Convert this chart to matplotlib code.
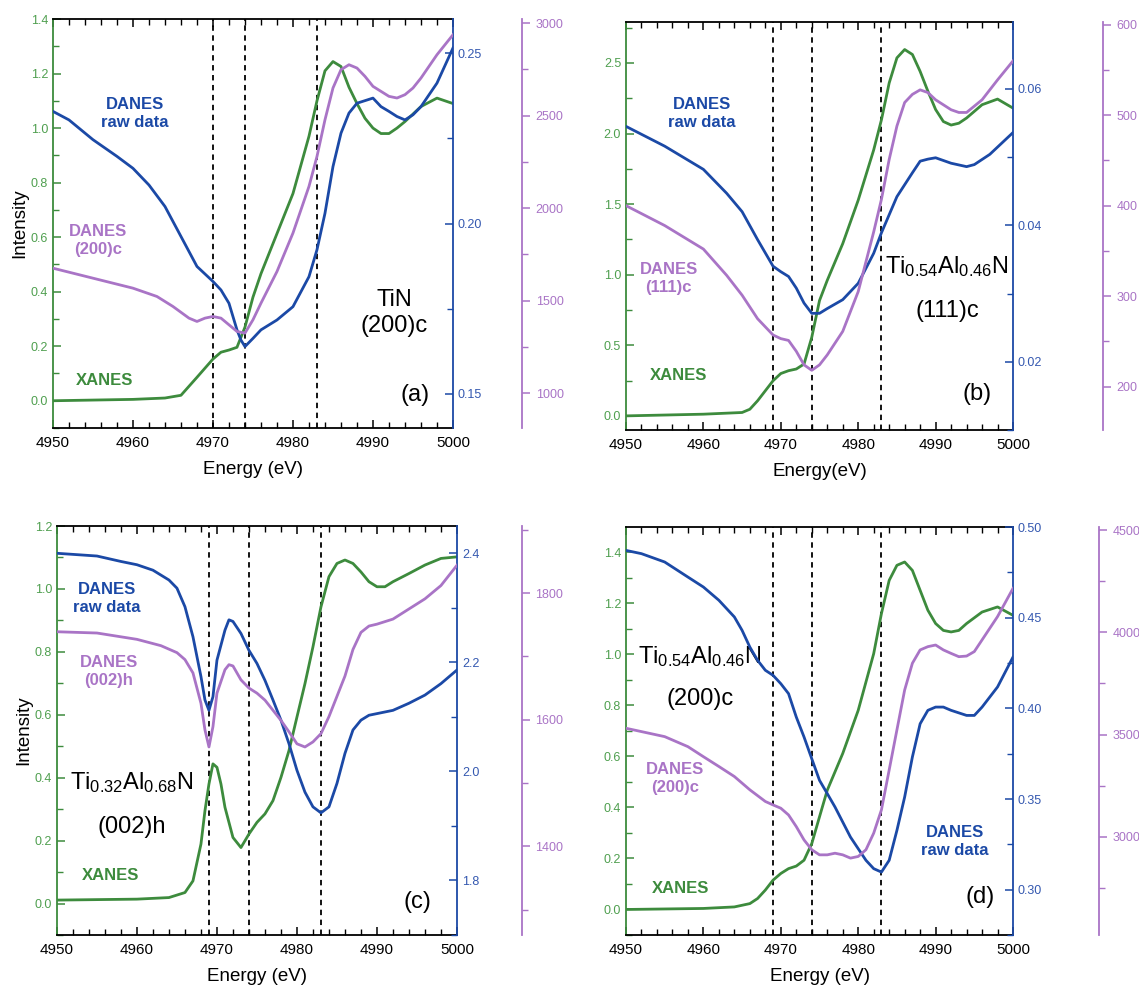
import numpy as np
import matplotlib
matplotlib.use("Agg")
import matplotlib.pyplot as plt
from matplotlib.ticker import MultipleLocator, FormatStrFormatter

plt.rcParams['font.family'] = ['Liberation Sans', 'DejaVu Sans']
plt.rcParams['mathtext.fontset'] = 'custom'
plt.rcParams['mathtext.rm'] = 'Liberation Sans'
plt.rcParams['mathtext.it'] = 'Liberation Sans:italic'

GREEN = '#3d8b3d'
BLUE = '#1b49a6'
PURPLE = '#a974c6'
GREEN_T = '#4f9f4f'
BLUE_T = '#3458b0'

# ---------------- panel (a) TiN (200)c ----------------
ea_x = [4950, 4960, 4964, 4965, 4966, 4968, 4970, 4971, 4972, 4973, 4973.5, 4974, 4975, 4976,
        4978, 4980, 4982, 4983, 4984, 4985, 4986, 4987, 4988, 4989, 4990, 4991, 4992, 4993,
        4994, 4996, 4998, 5000]
a_xanes = [0.0, 0.005, 0.01, 0.015, 0.02, 0.086, 0.153, 0.178, 0.186, 0.196, 0.233, 0.27, 0.38, 0.466,
           0.613, 0.76, 0.97, 1.10, 1.21, 1.244, 1.226, 1.15, 1.09, 1.036, 1.0, 0.98, 0.98, 1.0,
           1.024, 1.079, 1.11, 1.09]
ea_b = [4950, 4952, 4955, 4958, 4960, 4962, 4964, 4966, 4968, 4970, 4971, 4972, 4973, 4973.5,
        4974, 4975, 4976, 4978, 4980, 4982, 4983, 4984, 4985, 4986, 4987, 4988, 4990, 4991,
        4992, 4993, 4994, 4995, 4996, 4998, 5000]
a_raw = [0.2329, 0.2304, 0.2246, 0.2197, 0.2162, 0.2113, 0.205, 0.1962, 0.1874, 0.183, 0.1805, 0.1766,
         0.1688, 0.1658, 0.1639, 0.1663, 0.1688, 0.1717, 0.1756, 0.1844, 0.1923, 0.203, 0.2167,
         0.2265, 0.2324, 0.2353, 0.2368, 0.2343, 0.2329, 0.2314, 0.2304, 0.2319, 0.2343, 0.2412, 0.2515]
ea_p = [4950, 4955, 4960, 4963, 4965, 4967, 4968, 4969, 4970, 4971, 4972, 4973, 4974, 4975, 4976,
        4978, 4980, 4982, 4983, 4984, 4985, 4986, 4987, 4988, 4989, 4990, 4992, 4993, 4994, 4995,
        4996, 4998, 5000]
a_danes = [1675, 1621, 1567, 1522, 1468, 1405, 1387, 1405, 1414, 1405, 1369, 1333, 1324, 1396, 1486,
           1657, 1865, 2117, 2279, 2477, 2649, 2748, 2775, 2757, 2712, 2658, 2604, 2595, 2613, 2649,
           2703, 2829, 2937]

# ---------------- panel (b) Ti0.54Al0.46N (111)c ----------------
eb_x = [4950, 4960, 4965, 4966, 4967, 4968, 4969, 4970, 4971, 4972, 4973, 4974, 4975, 4976, 4978,
        4980, 4982, 4983, 4984, 4985, 4986, 4987, 4988, 4989, 4990, 4991, 4992, 4993, 4994, 4996,
        4998, 5000]
b_xanes = [0.0, 0.012, 0.024, 0.047, 0.107, 0.178, 0.249, 0.30, 0.32, 0.332, 0.367, 0.557, 0.817,
           0.96, 1.22, 1.528, 1.884, 2.097, 2.358, 2.536, 2.595, 2.56, 2.44, 2.30, 2.17, 2.085, 2.06,
           2.073, 2.11, 2.204, 2.244, 2.18]
eb_b = [4950, 4955, 4960, 4963, 4965, 4967, 4969, 4970, 4971, 4972, 4973, 4974, 4975, 4976, 4978,
        4980, 4982, 4983, 4985, 4987, 4988, 4989, 4990, 4992, 4994, 4995, 4997, 5000]
b_raw = [0.0545, 0.0516, 0.0482, 0.0447, 0.0420, 0.0379, 0.0340, 0.0332, 0.0325, 0.0308, 0.0286,
         0.0271, 0.0271, 0.0278, 0.0291, 0.0315, 0.0359, 0.0389, 0.0442, 0.0477, 0.0494, 0.0497,
         0.0499, 0.0491, 0.0486, 0.0489, 0.0504, 0.0536]
eb_p = [4950, 4955, 4960, 4963, 4965, 4967, 4969, 4970, 4971, 4972, 4973, 4974, 4975, 4976, 4978,
        4980, 4982, 4983, 4984, 4985, 4986, 4987, 4988, 4989, 4990, 4992, 4993, 4994, 4996, 4998, 5000]
b_danes = [400, 378, 352, 323, 301, 275, 257, 253, 251, 239, 224, 218, 224, 235, 261, 305, 371, 407,
           451, 488, 514, 523, 528, 525, 517, 506, 503, 503, 517, 539, 560]

# ---------------- panel (c) Ti0.32Al0.68N (002)h ----------------
ec_x = [4950, 4960, 4964, 4966, 4967, 4968, 4968.5, 4969, 4969.5, 4970, 4970.5, 4971, 4972, 4973,
        4974, 4975, 4976, 4977, 4978, 4979, 4980, 4981, 4982, 4983, 4984, 4985, 4986, 4987, 4988,
        4989, 4990, 4991, 4992, 4994, 4996, 4998, 5000]
c_xanes = [0.011, 0.014, 0.019, 0.035, 0.072, 0.189, 0.295, 0.38, 0.444, 0.433, 0.38, 0.306, 0.21,
           0.178, 0.221, 0.258, 0.285, 0.327, 0.401, 0.486, 0.593, 0.699, 0.816, 0.943, 1.039, 1.081,
           1.092, 1.081, 1.054, 1.023, 1.007, 1.007, 1.023, 1.049, 1.076, 1.097, 1.102]
ec_b = [4950, 4955, 4958, 4960, 4962, 4964, 4965, 4966, 4967, 4968, 4968.5, 4969, 4969.5, 4970,
        4971, 4971.5, 4972, 4973, 4974, 4975, 4976, 4977, 4978, 4979, 4980, 4981, 4982, 4983, 4984,
        4985, 4986, 4987, 4988, 4989, 4990, 4992, 4994, 4996, 4998, 5000]
c_raw = [2.400, 2.395, 2.385, 2.379, 2.369, 2.351, 2.336, 2.302, 2.247, 2.174, 2.131, 2.112, 2.137,
         2.204, 2.259, 2.278, 2.275, 2.253, 2.222, 2.198, 2.167, 2.131, 2.094, 2.051, 2.002, 1.962,
         1.935, 1.924, 1.935, 1.978, 2.033, 2.076, 2.094, 2.103, 2.106, 2.112, 2.125, 2.140, 2.161, 2.186]
ec_p = [4950, 4955, 4960, 4963, 4965, 4966, 4967, 4968, 4968.5, 4969, 4969.5, 4970, 4971, 4971.5,
        4972, 4973, 4974, 4975, 4976, 4977, 4978, 4979, 4980, 4981, 4982, 4983, 4984, 4985, 4986,
        4987, 4988, 4989, 4990, 4992, 4994, 4996, 4998, 5000]
c_danes = [1739, 1737, 1727, 1717, 1706, 1695, 1674, 1626, 1584, 1557, 1589, 1642, 1679, 1687, 1685,
           1663, 1650, 1642, 1631, 1615, 1599, 1581, 1562, 1557, 1565, 1578, 1605, 1637, 1669, 1711,
           1738, 1748, 1751, 1759, 1775, 1791, 1812, 1844]

# ---------------- panel (d) Ti0.54Al0.46N (200)c ----------------
ed_x = [4950, 4960, 4964, 4966, 4967, 4968, 4969, 4970, 4971, 4972, 4973, 4974, 4975, 4976, 4978,
        4980, 4982, 4983, 4984, 4985, 4986, 4987, 4988, 4989, 4990, 4991, 4992, 4993, 4994, 4996,
        4998, 5000]
d_xanes = [0.0, 0.004, 0.01, 0.023, 0.043, 0.076, 0.115, 0.141, 0.16, 0.17, 0.193, 0.258, 0.363,
           0.467, 0.611, 0.78, 1.002, 1.159, 1.289, 1.348, 1.361, 1.328, 1.25, 1.172, 1.12, 1.093,
           1.087, 1.093, 1.12, 1.165, 1.185, 1.152]
ed_b = [4950, 4952, 4955, 4958, 4960, 4962, 4964, 4965, 4966, 4967, 4968, 4969, 4970, 4971, 4972,
        4973, 4974, 4975, 4976, 4977, 4978, 4979, 4980, 4981, 4982, 4983, 4984, 4985, 4986, 4987,
        4988, 4989, 4990, 4991, 4992, 4994, 4995, 4996, 4998, 5000]
d_raw = [0.4871, 0.4853, 0.4807, 0.4724, 0.4669, 0.4596, 0.4504, 0.443, 0.4338, 0.4265, 0.421,
         0.4182, 0.4136, 0.4081, 0.3952, 0.3842, 0.3722, 0.3603, 0.353, 0.3456, 0.3373, 0.329,
         0.3226, 0.3162, 0.3116, 0.3097, 0.3162, 0.3327, 0.3511, 0.3732, 0.3915, 0.3989, 0.4007,
         0.4007, 0.3989, 0.3961, 0.3961, 0.4007, 0.4118, 0.4283]
ed_p = [4950, 4955, 4958, 4960, 4962, 4964, 4966, 4968, 4969, 4970, 4971, 4972, 4973, 4974, 4975,
        4976, 4977, 4978, 4979, 4980, 4981, 4982, 4983, 4984, 4985, 4986, 4987, 4988, 4989, 4990,
        4991, 4992, 4993, 4994, 4995, 4996, 4998, 5000]
d_danes = [3531, 3490, 3441, 3392, 3344, 3295, 3230, 3173, 3156, 3140, 3107, 3050, 2985, 2937, 2912,
           2912, 2920, 2912, 2896, 2904, 2937, 3018, 3132, 3327, 3523, 3718, 3849, 3914, 3930, 3938,
           3914, 3897, 3881, 3884, 3906, 3963, 4077, 4215]


def panel(rect, xanes, raw, danes, ylims, majors, minors, fmts, offset, vlines, xlabel, ylabel):
    ax = fig.add_axes(rect)
    ax2 = ax.twinx()
    ax3 = ax.twinx()
    ax3.spines['right'].set_position(('outward', offset))
    for a in (ax2, ax3):
        for s in ('left', 'top', 'bottom'):
            a.spines[s].set_visible(False)
    ax.spines['left'].set_color(GREEN)
    ax.spines['right'].set_visible(False)
    ax2.spines['right'].set_color(BLUE)
    ax3.spines['right'].set_color(PURPLE)
    for s in ax.spines.values():
        s.set_linewidth(1.3)
    ax2.spines['right'].set_linewidth(1.3)
    ax3.spines['right'].set_linewidth(1.3)

    for xv in vlines:
        ax.axvline(xv, color='black', ls=(0, (3, 2.5)), lw=1.3, zorder=1)

    ax.plot(xanes[0], xanes[1], color=GREEN, lw=2.0)
    ax2.plot(raw[0], raw[1], color=BLUE, lw=2.0)
    ax3.plot(danes[0], danes[1], color=PURPLE, lw=2.0)

    ax.set_xlim(4950, 5000)
    ax.xaxis.set_major_locator(MultipleLocator(10))
    ax.xaxis.set_minor_locator(MultipleLocator(2))
    ax.tick_params(axis='x', which='both', direction='in', top=True, labelsize=11)
    ax.tick_params(axis='x', which='major', length=6, width=1.1, pad=6)
    ax.tick_params(axis='x', which='minor', length=4, width=1.0)

    for a, yl, mj, mn, fm, c, tc, d in zip((ax, ax2, ax3), ylims, majors, minors, fmts,
                                         (GREEN, BLUE, PURPLE), (GREEN_T, BLUE_T, PURPLE),
                                         ('in', 'in', 'out')):
        a.set_ylim(*yl)
        a.yaxis.set_major_locator(MultipleLocator(mj))
        a.yaxis.set_minor_locator(MultipleLocator(mn))
        a.yaxis.set_major_formatter(FormatStrFormatter(fm))
        a.tick_params(axis='y', which='both', direction=d, color=c, labelcolor=tc, labelsize=9)
        a.tick_params(axis='y', which='major', length=6, width=1.1)
        a.tick_params(axis='y', which='minor', length=4, width=1.0)

    ax.set_xlabel(xlabel, fontsize=13.5, labelpad=8)
    if ylabel:
        ax.set_ylabel(ylabel, fontsize=13.5, labelpad=2)
    return ax


fig = plt.figure(figsize=(11.39, 9.91), dpi=100)

ax_a = panel([0.0465, 0.5681, 0.3512, 0.4127], (ea_x, a_xanes), (ea_b, a_raw), (ea_p, a_danes),
             [(-0.1, 1.4), (0.14, 0.26), (811, 3022)], [0.2, 0.05, 500], [0.1, 0.025, 250],
             ['%.1f', '%.2f', '%d'], 50, [4970, 4974, 4983], 'Energy (eV)', 'Intensity')
ax_a.text(4960.2, 1.054, 'DANES\nraw data', color=BLUE, fontsize=12, fontweight='bold',
          ha='center', va='center', linespacing=1.25)
ax_a.text(4955.6, 0.588, 'DANES\n(200)c', color=PURPLE, fontsize=12, fontweight='bold',
          ha='center', va='center', linespacing=1.25)
ax_a.text(4956.5, 0.073, 'XANES', color=GREEN, fontsize=12, fontweight='bold', ha='center', va='center')
ax_a.text(4992.7, 0.323, 'TiN\n(200)c', fontsize=17, ha='center', va='center', linespacing=1.25)
ax_a.text(4995.2, 0.02, '(a)', fontsize=17, ha='center', va='center')

ax_b = panel([0.5496, 0.5661, 0.3398, 0.4117], (eb_x, b_xanes), (eb_b, b_raw), (eb_p, b_danes),
             [(-0.1, 2.79), (0.01, 0.0698), (152, 603)], [0.5, 0.02, 100], [0.25, 0.01, 50],
             ['%.1f', '%.2f', '%d'], 65, [4969, 4974, 4983], 'Energy(eV)', None)
ax_b.text(4959.8, 2.145, 'DANES\nraw data', color=BLUE, fontsize=12, fontweight='bold',
          ha='center', va='center', linespacing=1.25)
ax_b.text(4955.5, 0.97, 'DANES\n(111)c', color=PURPLE, fontsize=12, fontweight='bold',
          ha='center', va='center', linespacing=1.25)
ax_b.text(4956.8, 0.284, 'XANES', color=GREEN, fontsize=12, fontweight='bold', ha='center', va='center')
ax_b.text(4991.5, 1.055, r'Ti$_{0.54}$Al$_{0.46}$N', fontsize=17, ha='center', va='center')
ax_b.text(4991.5, 0.746, '(111)c', fontsize=17, ha='center', va='center')
ax_b.text(4995.3, 0.154, '(b)', fontsize=17, ha='center', va='center')

ax_c = panel([0.0500, 0.0565, 0.3512, 0.4127], (ec_x, c_xanes), (ec_b, c_raw), (ec_p, c_danes),
             [(-0.1, 1.2), (1.70, 2.45), (1260, 1906)], [0.2, 0.2, 200], [0.1, 0.1, 100],
             ['%.1f', '%.1f', '%d'], 47, [4969, 4974, 4983], 'Energy (eV)', 'Intensity')
ax_c.text(4956.25, 0.97, 'DANES\nraw data', color=BLUE, fontsize=12, fontweight='bold',
          ha='center', va='center', linespacing=1.25)
ax_c.text(4956.5, 0.736, 'DANES\n(002)h', color=PURPLE, fontsize=12, fontweight='bold',
          ha='center', va='center', linespacing=1.25)
ax_c.text(4956.7, 0.088, 'XANES', color=GREEN, fontsize=12, fontweight='bold', ha='center', va='center')
ax_c.text(4959.4, 0.385, r'Ti$_{0.32}$Al$_{0.68}$N', fontsize=17, ha='center', va='center')
ax_c.text(4959.4, 0.242, '(002)h', fontsize=17, ha='center', va='center')
ax_c.text(4995.0, 0.006, '(c)', fontsize=17, ha='center', va='center')

ax_d = panel([0.5496, 0.0565, 0.3398, 0.4117], (ed_x, d_xanes), (ed_b, d_raw), (ed_p, d_danes),
             [(-0.1, 1.498), (0.275, 0.50), (2520, 4515)], [0.2, 0.05, 500], [0.1, 0.025, 250],
             ['%.1f', '%.2f', '%d'], 62, [4969, 4974, 4983], 'Energy (eV)', None)
ax_d.text(4992.5, 0.265, 'DANES\nraw data', color=BLUE, fontsize=12, fontweight='bold',
          ha='center', va='center', linespacing=1.25)
ax_d.text(4956.3, 0.513, 'DANES\n(200)c', color=PURPLE, fontsize=12, fontweight='bold',
          ha='center', va='center', linespacing=1.25)
ax_d.text(4957.0, 0.082, 'XANES', color=GREEN, fontsize=12, fontweight='bold', ha='center', va='center')
ax_d.text(4959.6, 0.989, r'Ti$_{0.54}$Al$_{0.46}$N', fontsize=17, ha='center', va='center')
ax_d.text(4959.6, 0.826, '(200)c', fontsize=17, ha='center', va='center')
ax_d.text(4995.7, 0.05, '(d)', fontsize=17, ha='center', va='center')

fig.savefig('out.png', dpi=100)
